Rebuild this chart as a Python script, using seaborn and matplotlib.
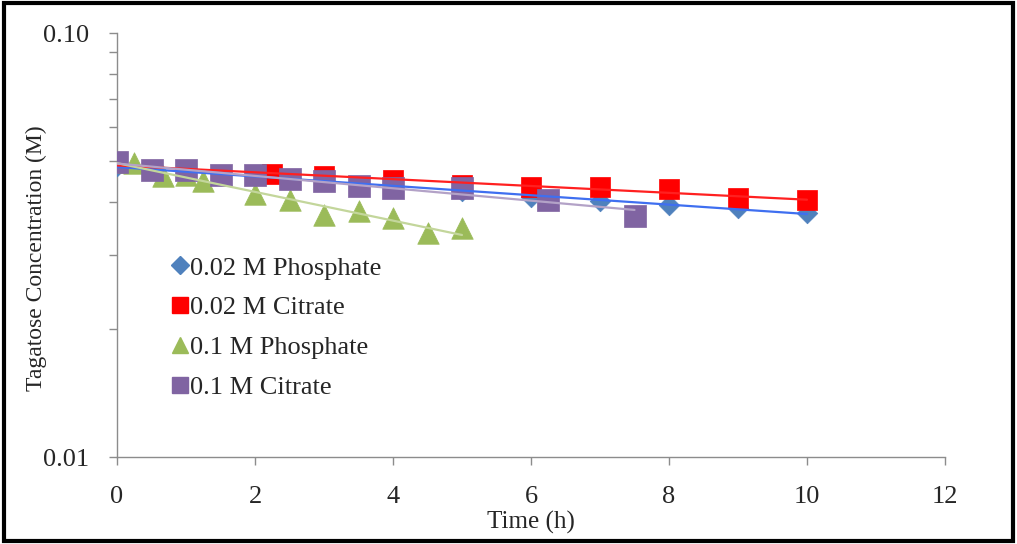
import numpy as np
import pandas as pd
import matplotlib
matplotlib.use("Agg")
import matplotlib.pyplot as plt
import matplotlib.patches as mpatches
from matplotlib.lines import Line2D
from matplotlib.ticker import FixedLocator, FixedFormatter, NullFormatter, LogLocator
import seaborn as sns

# ---- data ----
t_p02 = [0, 1, 2, 3, 4, 5, 6, 7, 8, 9, 10]
c_p02 = [0.0485, 0.0472, 0.0459, 0.0447, 0.0436, 0.0424, 0.0410, 0.0402, 0.0393, 0.0387, 0.0376]

t_c02 = [0, 1, 2.25, 3, 4, 5, 6, 7, 8, 9, 10]
c_c02 = [0.0495, 0.0475, 0.0465, 0.0460, 0.0450, 0.0438, 0.0433, 0.0433, 0.0428, 0.0408, 0.0404]

t_p01 = [0, 0.25, 0.67, 1, 1.25, 2, 2.5, 3, 3.5, 4, 4.5, 5]
c_p01 = [0.0497, 0.0494, 0.0460, 0.0463, 0.0448, 0.0417, 0.0404, 0.0372, 0.0380, 0.0366, 0.0338, 0.0347]

t_c01 = [0, 0.5, 1, 1.5, 2, 2.5, 3, 3.5, 4, 5, 6.25, 7.5]
c_c01 = [0.0496, 0.0475, 0.0475, 0.0463, 0.0463, 0.0452, 0.0448, 0.0436, 0.0431, 0.0431, 0.0404, 0.0370]

series_names = ["0.02 M Phosphate", "0.02 M Citrate", "0.1 M Phosphate", "0.1 M Citrate"]
x_ticks = [0, 2, 4, 6, 8, 10, 12]
y_ticks = [0.01, 0.10]
y_tick_labels = ["0.01", "0.10"]

# ---- styles ----
marker_colors = ["#4F81BD", "#FF0000", "#9BBB59", "#8064A2"]
line_colors = ["#3F6FF0", "#FF2020", "#C3D69B", "#B3A2C7"]
markers = ["D", "s", "^", "s"]
sizes = [110, 190, 240, 250]

frames = []
for name, t, c in zip(series_names,
                      [t_p02, t_c02, t_p01, t_c01],
                      [c_p02, c_c02, c_p01, c_c01]):
    frames.append(pd.DataFrame({"Time": t, "Conc": c, "Series": name}))
df = pd.concat(frames, ignore_index=True)

sns.set_theme(style="white")
plt.rcParams["font.family"] = ["Liberation Serif", "DejaVu Serif"]

fig = plt.figure(figsize=(10.17, 5.44), dpi=100)
ax = fig.add_axes([117 / 1017, 87 / 544, 828 / 1017, 424 / 544])

# markers
for i, name in enumerate(series_names):
    sub = df[df["Series"] == name]
    sns.scatterplot(data=sub, x="Time", y="Conc", ax=ax, marker=markers[i],
                    s=sizes[i], color=marker_colors[i], edgecolor=marker_colors[i],
                    linewidth=0.5, legend=False, zorder=3 + i)

# exponential trendlines (fit on log scale)
for i, name in enumerate(series_names):
    sub = df[df["Series"] == name]
    k, b = np.polyfit(sub["Time"], np.log(sub["Conc"]), 1)
    tt = np.linspace(0, sub["Time"].max(), 50)
    fit = pd.DataFrame({"Time": tt, "Conc": np.exp(b + k * tt)})
    sns.lineplot(data=fit, x="Time", y="Conc", ax=ax, color=line_colors[i],
                 linewidth=1.6, legend=False, zorder=10)

ax.set_yscale("log")
ax.set_xlim(0, 12)
ax.set_ylim(0.01, 0.10)
ax.xaxis.set_major_locator(FixedLocator(x_ticks))
ax.yaxis.set_major_locator(FixedLocator(y_ticks))
ax.yaxis.set_major_formatter(FixedFormatter(y_tick_labels))
ax.yaxis.set_minor_locator(LogLocator(base=10, subs=np.arange(2, 10)))
ax.yaxis.set_minor_formatter(NullFormatter())

for s in ["top", "right"]:
    ax.spines[s].set_visible(False)
for s in ["left", "bottom"]:
    ax.spines[s].set_color("#8C8C8C")
    ax.spines[s].set_linewidth(1.0)

ax.tick_params(axis="x", which="major", direction="out", length=6, width=1,
               color="#8C8C8C", labelsize=19, pad=15, bottom=True)
ax.tick_params(axis="y", which="both", direction="out", length=6, width=1,
               color="#8C8C8C", labelsize=19, pad=14, left=True)

ax.set_xlabel("Time (h)", fontsize=18)
ax.set_ylabel("Tagatose Concentration (M)", fontsize=17)
ax.xaxis.set_label_coords(0.5, -0.128)
ax.yaxis.set_label_coords(-0.085, 0.47)
ax.grid(False)

handles = [Line2D([0], [0], marker=markers[i], linestyle="none",
                  markerfacecolor=marker_colors[i], markeredgecolor=marker_colors[i],
                  markersize=[9, 11, 11, 11][i]) for i in range(4)]
leg = ax.legend(handles, series_names, loc="upper left",
                bbox_to_anchor=(0.05, 0.505), frameon=False, fontsize=19,
                handlelength=0.6, handletextpad=0.1, labelspacing=0.62,
                borderpad=0)

fig.patches.append(mpatches.Rectangle((0.004, 0.005), 0.992, 0.99,
                                      transform=fig.transFigure, fill=False,
                                      edgecolor="black", linewidth=3))

fig.savefig("out.png", dpi=100)
